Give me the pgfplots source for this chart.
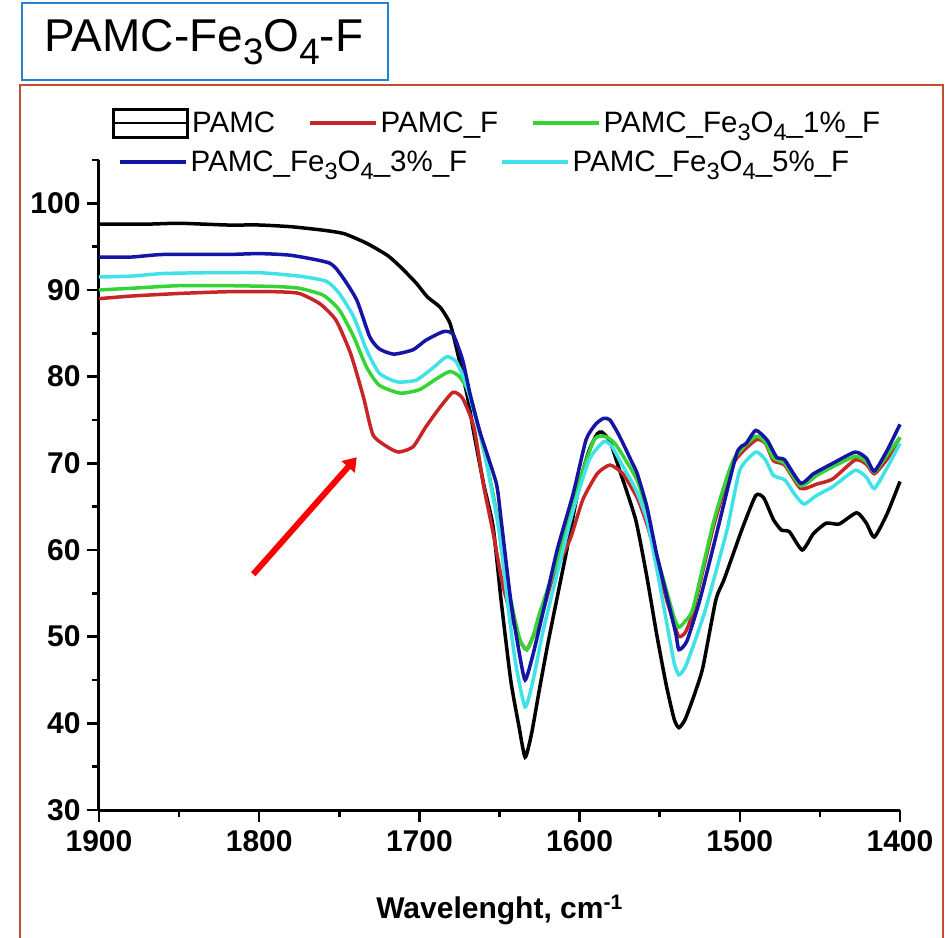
\documentclass[border=0pt]{standalone}
\usepackage{fontspec}
\setmainfont{Liberation Sans}
\usepackage{pgfplots}
\pgfplotsset{compat=1.18}
\usetikzlibrary{arrows.meta}

\definecolor{cBlack}{RGB}{0,0,0}
\definecolor{cRed}{RGB}{200,38,38}
\definecolor{cGreen}{RGB}{52,212,52}
\definecolor{cBlue}{RGB}{20,20,165}
\definecolor{cCyan}{RGB}{64,226,232}
\definecolor{frameBrown}{RGB}{190,78,45}
\definecolor{titleBlue}{RGB}{36,130,210}

\newcommand{\lgfont}{\fontsize{29.5}{33}\selectfont}
\newcommand{\tkfont}{\bfseries\fontsize{30}{34}\selectfont}
% subscript a little larger than the default one
\newcommand{\sub}[1]{\raisebox{-0.28em}{\scalebox{0.8}{#1}}}

\pgfplotsset{
  spec/.style={line width=3.5pt, smooth, tension=0.35},
  lineimg/.style={legend image code/.code={\draw[##1, line width=3.5pt, sharp plot] (0pt,0pt) -- (66pt,0pt);}},
}

\begin{document}
\begin{tikzpicture}
\useasboundingbox (0pt,0pt) rectangle (945pt,937pt);

% outer frame and title box
\draw[frameBrown, line width=2pt] (20pt,-10pt) -- (20pt,852pt) -- (943pt,852pt) -- (943pt,-10pt);
\draw[titleBlue, line width=2pt, fill=white] (22pt,857pt) rectangle (388pt,934pt);
\node[font=\fontsize{46}{50}\selectfont] at (204pt,895pt) {PAMC-Fe\sub{3}O\sub{4}-F};

\begin{axis}[
  at={(99pt,127pt)}, anchor=south west,
  scale only axis, width=801pt, height=650pt,
  xmin=1400, xmax=1900, ymin=30, ymax=105,
  x dir=reverse,
  axis x line*=bottom, axis y line*=left,
  axis line style={line width=3pt, -},
  tick style={black, line width=2.5pt},
  tick align=outside,
  major tick length=12pt, minor tick length=7pt,
  xtick={1400,1500,...,1900},
  minor xtick={1450,1550,...,1850},
  ytick={30,40,...,100},
  minor ytick={35,45,...,105},
  /pgf/number format/assume math mode=true,
  /pgf/number format/1000 sep={},
  ticklabel style={font=\tkfont},
  xticklabel style={yshift=-5pt},
  yticklabel style={xshift=-3pt},
  xlabel={\bfseries Wavelenght, cm\textsuperscript{-1}},
  xlabel style={font=\tkfont, yshift=-36pt},
  legend columns=3,
  legend style={at={(0.0162,1.0569)}, anchor=west, draw=none, fill=none,
    inner sep=0pt, font=\lgfont,
    /tikz/every even column/.append style={column sep=30pt},
    nodes={inner sep=3pt}},
  clip=false,
]

% tick marks on the two axis lines
\pgfplotsinvokeforeach{1400,1500,...,1900}{
  \draw[black, line width=2.5pt] (axis cs:#1,30) -- ++(0pt,-12pt);}
\pgfplotsinvokeforeach{1450,1550,...,1850}{
  \draw[black, line width=2.5pt] (axis cs:#1,30) -- ++(0pt,-7pt);}
\pgfplotsinvokeforeach{30,40,...,100}{
  \draw[black, line width=2.5pt] (axis cs:1900,#1) -- ++(-12pt,0pt);}
\pgfplotsinvokeforeach{35,45,...,105}{
  \draw[black, line width=2.5pt] (axis cs:1900,#1) -- ++(-7pt,0pt);}

% legend entries of the first row
\addlegendimage{legend image code/.code={%
  \draw[black, line width=3pt] (0pt,-14pt) rectangle (74pt,14pt);
  \draw[black, line width=2pt] (0pt,0pt) -- (74pt,0pt);}}
\addlegendentry{PAMC}
\addlegendimage{cRed, lineimg}
\addlegendentry{PAMC\_F}
\addlegendimage{cGreen, lineimg}
\addlegendentry{PAMC\_Fe\sub{3}O\sub{4}\_1\%\_F}

% PAMC
\addplot[cBlack, spec, forget plot] coordinates {
(1900,97.6) (1870,97.6) (1850,97.7) (1820,97.5) (1800,97.5) (1780,97.3)
(1760,96.9) (1747,96.5) (1733,95.4) (1720,94.0) (1712,92.7) (1702,90.8)
(1695,89.2) (1687,88.0) (1681,86.2) (1677,83.4) (1670,77.7) (1666,73.5)
(1660,67.7) (1654,62.7) (1649,54.2) (1643,45.0) (1638,39.8) (1634,36.1)
(1630,38.8) (1625,44.0) (1620,49.0) (1616,52.7) (1608,60.0) (1600,67.7)
(1594,71.5) (1589,73.4) (1586,73.6) (1581,72.5) (1575,69.2) (1565,63.5)
(1558,56.9) (1552,50.4) (1546,44.5) (1541,40.5) (1538,39.5) (1534,40.5)
(1528,43.5) (1523,46.5) (1515,54.2) (1510,56.5) (1504,59.6) (1498,62.7)
(1490,66.3) (1485,66.0) (1479,63.5) (1474,62.3) (1469,62.1) (1461,60.0)
(1454,61.9) (1446,63.1) (1438,63.0) (1427,64.3) (1421,63.1) (1416,61.5)
(1408,64.2) (1400,67.9)
};

% PAMC_F
\addplot[cRed, spec, forget plot] coordinates {
(1900,89.0) (1880,89.3) (1850,89.6) (1820,89.8) (1790,89.8) (1775,89.6)
(1762,88.4) (1752,86.5) (1743,82.7) (1735,77.7) (1729,73.3) (1720,71.9)
(1713,71.3) (1704,71.9) (1696,74.2) (1687,76.5) (1679,78.2) (1673,77.5)
(1666,74.2) (1660,67.5) (1654,62.0) (1648,56.0) (1642,52.0) (1637,49.5)
(1633,48.5) (1628,50.5) (1622,53.5) (1616,57.3) (1606,61.2) (1598,65.8)
(1589,68.8) (1581,69.8) (1573,68.8) (1564,66.0) (1558,63.0) (1552,59.0)
(1546,54.5) (1541,51.5) (1538,50.0) (1534,50.5) (1529,53.0) (1516,63.0)
(1504,70.0) (1490,72.7) (1484,72.3) (1479,70.3) (1472,69.8) (1462,67.1)
(1452,67.6) (1442,68.2) (1428,70.4) (1421,69.9) (1416,68.8) (1408,70.5)
(1400,73.0)
};

% PAMC_Fe3O4_1%_F
\addplot[cGreen, spec, forget plot] coordinates {
(1900,90.0) (1880,90.2) (1850,90.5) (1820,90.5) (1790,90.4) (1775,90.2)
(1760,89.4) (1750,87.7) (1741,84.6) (1733,81.1) (1725,79.0) (1712,78.1)
(1700,78.5) (1689,79.8) (1681,80.6) (1675,80.0) (1668,77.7) (1658,70.0)
(1652,64.5) (1647,58.0) (1641,52.5) (1637,49.5) (1633,48.5) (1629,50.0)
(1625,52.7) (1614,58.8) (1602,66.9) (1591,72.7) (1584,73.1) (1578,72.3)
(1571,70.3) (1564,68.0) (1558,64.5) (1552,59.5) (1546,55.5) (1541,52.2)
(1538,51.1) (1534,51.8) (1529,53.4) (1516,63.5) (1504,70.4) (1490,73.1)
(1484,72.4) (1479,70.6) (1472,70.0) (1462,67.4) (1452,68.6) (1442,69.6)
(1428,70.8) (1421,70.2) (1416,69.0) (1408,71.0) (1400,73.0)
};

% PAMC_Fe3O4_5%_F
\addplot[cCyan, spec, forget plot] coordinates {
(1900,91.5) (1880,91.6) (1860,91.9) (1830,92.0) (1800,92.0) (1775,91.6)
(1758,91.0) (1750,89.6) (1741,86.9) (1733,83.1) (1725,80.4) (1714,79.4)
(1702,79.6) (1691,81.1) (1683,82.3) (1677,81.7) (1671,79.2) (1660,71.9)
(1655,67.0) (1650,62.0) (1645,54.0) (1640,47.0) (1634,41.9) (1629,45.0)
(1623,50.5) (1616,55.8) (1604,64.6) (1594,70.4) (1585,72.5) (1580,72.0)
(1574,70.0) (1565,67.0) (1558,63.5) (1552,58.0) (1546,52.0) (1541,47.0)
(1538,45.6) (1534,46.5) (1528,49.5) (1521,53.4) (1508,62.3) (1500,69.2)
(1490,71.3) (1484,70.4) (1479,68.6) (1472,68.1) (1466,66.5) (1460,65.3)
(1452,66.3) (1442,67.3) (1428,69.2) (1421,68.4) (1416,67.1) (1408,69.5)
(1400,72.3)
};

% PAMC_Fe3O4_3%_F
\addplot[cBlue, spec, forget plot] coordinates {
(1900,93.8) (1880,93.8) (1860,94.1) (1820,94.1) (1800,94.2) (1780,94.0)
(1756,93.1) (1748,91.5) (1739,88.8) (1731,84.6) (1725,83.2) (1716,82.6)
(1704,83.1) (1696,84.2) (1685,85.2) (1679,84.9) (1673,81.9) (1668,77.7)
(1662,73.5) (1652,67.7) (1649,63.5) (1643,54.2) (1638,48.5) (1634,45.0)
(1629,48.0) (1623,52.7) (1614,60.0) (1604,66.5) (1596,72.7) (1590,74.5)
(1585,75.2) (1581,75.0) (1575,73.1) (1567,70.0) (1564,68.8) (1558,65.0)
(1552,59.6) (1546,55.0) (1540,50.4) (1538,48.5) (1533,49.5) (1525,54.2)
(1515,61.5) (1502,71.1) (1496,72.3) (1490,73.8) (1483,72.7) (1477,70.7)
(1472,70.4) (1462,67.7) (1454,68.8) (1442,70.0) (1428,71.3) (1421,70.6)
(1416,69.1) (1408,71.5) (1400,74.5)
};

% arrow pointing at the shoulder of PAMC_F
\draw[red, line width=6pt, -{Triangle[length=13pt,width=17pt]}]
  (axis cs:1803.7,57.2) -- (axis cs:1739.1,70.7);
\end{axis}

% second legend row
\begin{axis}[
  at={(99pt,127pt)}, anchor=south west,
  scale only axis, width=801pt, height=650pt,
  xmin=1400, xmax=1900, ymin=30, ymax=105,
  hide axis,
  legend columns=2,
  legend style={at={(0.0237,0.997)}, anchor=west, draw=none, fill=none,
    inner sep=0pt, font=\lgfont,
    /tikz/every even column/.append style={column sep=30pt},
    nodes={inner sep=3pt}},
]
\addlegendimage{cBlue, lineimg}
\addlegendentry{PAMC\_Fe\sub{3}O\sub{4}\_3\%\_F}
\addlegendimage{cCyan, lineimg}
\addlegendentry{PAMC\_Fe\sub{3}O\sub{4}\_5\%\_F}
\end{axis}
\end{tikzpicture}
\end{document}
